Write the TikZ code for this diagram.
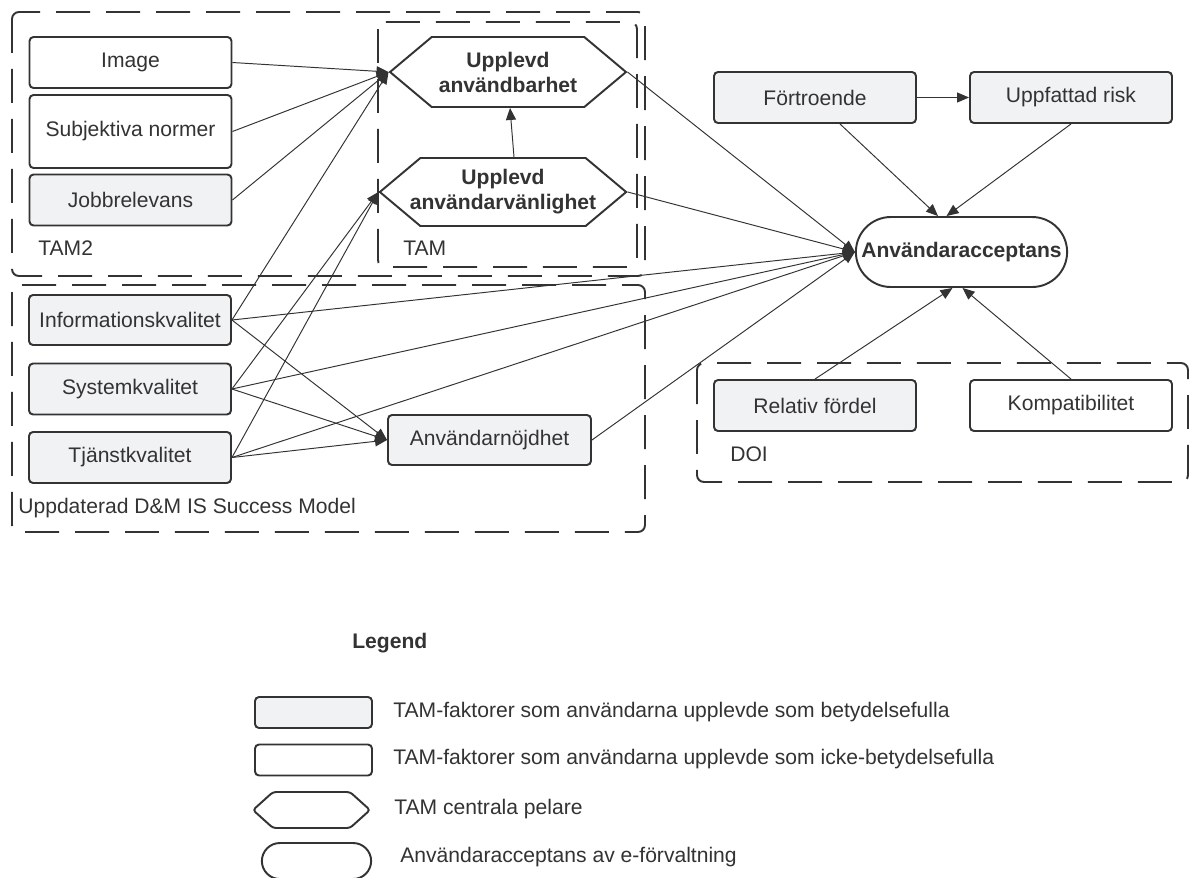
\documentclass[tikz,border=0pt]{standalone}
\usepackage{fontspec}
\setmainfont{Liberation Sans}
\usetikzlibrary{arrows.meta,shapes.misc,shapes.symbols}

\definecolor{ink}{HTML}{333333}
\definecolor{keygray}{HTML}{F1F2F4}

\tikzset{
  factor/.style={draw, line width=1.1pt, rounded corners=0.08cm, minimum width=4.04cm, minimum height=1.02cm},
  keyfactor/.style={factor, fill=keygray},
  pillar/.style={shape=signal, signal to=west and east, signal pointer angle=80, draw, line width=1.1pt, align=center, inner xsep=-0.21cm, font=\fontsize{12}{14.2}\selectfont\bfseries},
  goal/.style={rounded rectangle, draw, line width=1.1pt, font=\fontsize{12}{14.2}\selectfont\bfseries},
  frame/.style={line width=1.1pt, dash pattern=on 0.68cm off 0.32cm, rounded corners=0.14cm},
  boxlabel/.style={anchor=base west, inner sep=0pt},
  link/.style={line width=0.55pt, every edge/.append style={->}}
}

\begin{document}
\begin{tikzpicture}[x=0.02cm, y=-0.02cm, color=ink, font=\fontsize{12}{14.2}\selectfont, >={Triangle[length=0.24cm, width=0.2cm]}]
            \path[use as bounding box, fill=white] (0,0) rectangle (1190,877);

            \draw[frame] (12,12) rectangle (645,276);
            \draw[frame] (378,22) rectangle (637,267);
            \draw[frame] (12,285) rectangle (645,532);
            \draw[frame] (697,363) rectangle (1188,482);
            \node[boxlabel] (G1) at (38,255) {TAM2};
            \node[boxlabel] (G2) at (403,255) {TAM};
            \node[boxlabel] (G3) at (18,513) {Uppdaterad D\&M IS Success Model};
            \node[boxlabel] (G4) at (730,461) {DOI};

            \node (T1)[factor] at (130.5,62.5) {Image};
            \node (T2)[factor, minimum height=1.46cm] at (130.5,131.5) {Subjektiva normer};
            \node (T3)[keyfactor] at (130.5,200) {Jobbrelevans};
            \node (P1)[pillar, minimum width=4.72cm, minimum height=1.4cm] at (508,72) {Upplevd\\användbarhet};
            \node (P2)[pillar, minimum width=4.92cm, minimum height=1.36cm] at (503,192) {Upplevd\\användarvänlighet};

            \node (D1)[keyfactor, minimum height=1.0cm] at (130,320) {Informationskvalitet};
            \node (D2)[keyfactor] at (130,389) {Systemkvalitet};
            \node (D3)[keyfactor] at (130,457.5) {Tjänstkvalitet};
            \node (D4)[keyfactor, minimum width=4.06cm, minimum height=1.0cm] at (489.5,440) {Användarnöjdhet};

            \node (F1)[keyfactor] at (815,97.5) {Förtroende};
            \node (F2)[keyfactor] at (1071,97.5) {Uppfattad risk};
            \node (A)[goal, minimum width=4.46cm, minimum height=1.4cm] at (961.5,252) {Användaracceptans};
            \node (O1)[keyfactor] at (815,405.5) {Relativ fördel};
            \node (O2)[factor] at (1071,405.5) {Kompatibilitet};

            \draw[link] (T1.east) edge (P1.west) (T2.east) edge (P1.west) (T3.east) edge (P1.west) (D1.east) edge (P1.west);
            \draw[link] (D2.east) edge (P2.west) (D3.east) edge (P2.west) ([xshift=0.22cm]P2.north) edge ([xshift=0.04cm]P1.south);
            \draw[link] (D1.east) edge (D4.west) (D2.east) edge (D4.west) (D3.east) edge (D4.west);
            \draw[link] (P1.east) edge (A.west) (P2.east) edge (A.west) (D1.east) edge (A.west) (D2.east) edge (A.west) (D3.east) edge (A.west) (D4.east) edge (A.west);
            \draw[link] (F1.east) edge (F2.west) ([xshift=0.5cm]F1.south) edge ([xshift=-0.47cm]A.north) (F2.south) edge ([xshift=-0.3cm]A.north);
            \draw[link] (O1.north) edge ([xshift=-0.18cm]A.south) (O2.north) edge ([xshift=0.02cm]A.south);

            \node[boxlabel, font=\fontsize{12}{14.2}\selectfont\bfseries] (LG) at (352,648) {Legend};
            \node (L1)[keyfactor, minimum width=2.34cm, minimum height=0.62cm] at (313.5,712.5) {};
            \node (L2)[factor, minimum width=2.34cm, minimum height=0.62cm] at (313.5,760) {};
            \node (L3)[pillar, rounded corners=0.06cm, signal pointer angle=84, minimum width=2.34cm, minimum height=0.72cm] at (311.5,810) {};
            \node (L4)[goal, minimum width=2.42cm, minimum height=0.72cm] at (316.5,861) {};
            \node[boxlabel] (K1) at (393,717) {TAM-faktorer som användarna upplevde som betydelsefulla};
            \node[boxlabel] (K2) at (393,764) {TAM-faktorer som användarna upplevde som icke-betydelsefulla};
            \node[boxlabel] (K3) at (394,814) {TAM centrala pelare};
            \node[boxlabel] (K4) at (400,862) {Användaracceptans av e-förvaltning};
    \end{tikzpicture}
\end{document}
